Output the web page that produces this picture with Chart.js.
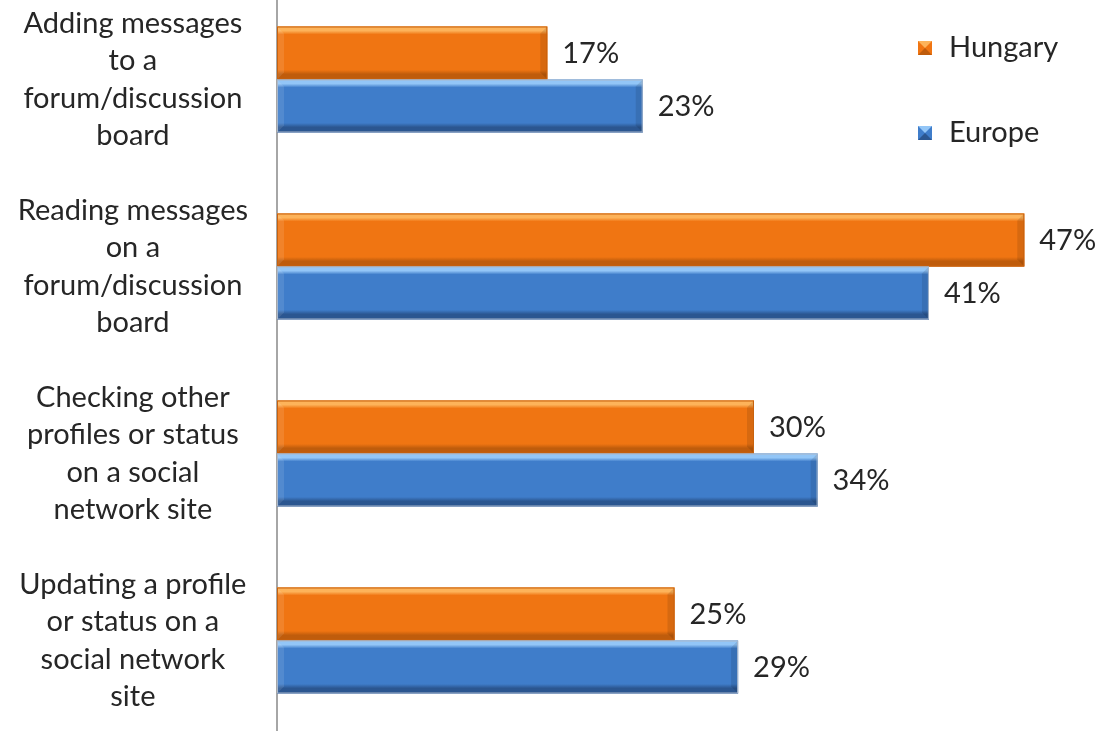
<!DOCTYPE html>
<html>
<head>
<meta charset="utf-8">
<script src="https://cdn.jsdelivr.net/npm/chart.js@4/dist/chart.umd.min.js"></script>
<style>
  html, body { margin: 0; padding: 0; background: #fff; overflow: hidden; }
  #wrap { position: absolute; left: 0; top: -14px; width: 1099px; height: 748px; }
</style>
</head>
<body>
<div id="wrap"><canvas id="c" width="1099" height="748"></canvas></div>
<script>
// Online activities, share of internet users
const categories = [
  ['Adding messages', 'to a', 'forum/discussion', 'board'],
  ['Reading messages', 'on a', 'forum/discussion', 'board'],
  ['Checking other', 'profiles or status', 'on a social', 'network site'],
  ['Updating a profile', 'or status on a', 'social network', 'site']
];
const hungary = [17, 47, 30, 25];
const europe = [23, 41, 34, 29];
const seriesNames = ['Hungary', 'Europe'];

const FONT = 'Lato, "Open Sans", sans-serif';
const TEXT = '#262626';

const palette = {
  Hungary: { base: '#F07512', light: '#FDB35A', dark: '#BF5C0C', border: '#C8620E' },
  Europe:  { base: '#3F7DCA', light: '#93C6F7', dark: '#2B5690', border: '#A9B8CC' }
};

// Bevelled fill for each bar: highlight on top, shade at bottom, lit left edge
const bevelBars = {
  id: 'bevelBars',
  afterDatasetsDraw(chart) {
    const ctx = chart.ctx;
    chart.data.datasets.forEach((ds, di) => {
      const p = palette[ds.label];
      chart.getDatasetMeta(di).data.forEach((bar, idx) => {
        const x0 = bar.base, x1 = bar.x;
        const y0 = bar.y - bar.height / 2, y1 = bar.y + bar.height / 2;
        const h = y1 - y0, w = x1 - x0;
        ctx.save();
        const g = ctx.createLinearGradient(0, y0, 0, y1);
        g.addColorStop(0, p.light);
        g.addColorStop(0.08, p.light);
        g.addColorStop(0.15, p.base);
        g.addColorStop(0.82, p.base);
        g.addColorStop(0.9, p.dark);
        g.addColorStop(1, p.dark);
        ctx.fillStyle = g;
        ctx.fillRect(x0, y0, w, h);
        // left bevel
        const b = 7;
        ctx.beginPath();
        ctx.moveTo(x0, y0); ctx.lineTo(x0 + b, y0 + b); ctx.lineTo(x0 + b, y1 - b); ctx.lineTo(x0, y1);
        ctx.closePath();
        ctx.fillStyle = 'rgba(255,255,255,0.10)';
        ctx.fill();
        // right bevel
        ctx.beginPath();
        ctx.moveTo(x1, y0); ctx.lineTo(x1 - b, y0 + b); ctx.lineTo(x1 - b, y1 - b); ctx.lineTo(x1, y1);
        ctx.closePath();
        ctx.fillStyle = 'rgba(0,0,0,0.10)';
        ctx.fill();
        ctx.strokeStyle = p.border;
        ctx.lineWidth = 1;
        ctx.strokeRect(x0 + 0.5, y0 + 0.5, w - 1, h - 1);
        ctx.restore();

        // value label
        ctx.save();
        ctx.font = '29px ' + FONT;
        ctx.fillStyle = TEXT;
        ctx.textAlign = 'left';
        ctx.textBaseline = 'middle';
        ctx.fillText(ds.data[idx] + '%', x1 + 15, bar.y + 1);
        ctx.restore();
      });
    });
  }
};

// Legend drawn as a vertical list with bevelled swatches
const sideLegend = {
  id: 'sideLegend',
  afterDraw(chart) {
    const ctx = chart.ctx;
    const rows = [62, 147];
    chart.data.datasets.forEach((ds, i) => {
      const p = palette[ds.label];
      const y = rows[i];
      const x = 918, s = 14;
      ctx.save();
      ctx.fillStyle = p.base;
      ctx.fillRect(x, y - s / 2, s, s);
      ctx.fillStyle = p.light;
      ctx.beginPath(); ctx.moveTo(x, y - s / 2); ctx.lineTo(x + s, y - s / 2); ctx.lineTo(x + s / 2, y); ctx.closePath(); ctx.fill();
      ctx.fillStyle = p.dark;
      ctx.beginPath(); ctx.moveTo(x, y + s / 2); ctx.lineTo(x + s, y + s / 2); ctx.lineTo(x + s / 2, y); ctx.closePath(); ctx.fill();
      ctx.font = '29px ' + FONT;
      ctx.fillStyle = TEXT;
      ctx.textBaseline = 'middle';
      ctx.fillText(ds.label, 949, y);
      ctx.restore();
    });
  }
};

new Chart(document.getElementById('c'), {
  type: 'bar',
  data: {
    labels: categories,
    datasets: [
      { label: seriesNames[0], data: hungary, backgroundColor: palette.Hungary.base },
      { label: seriesNames[1], data: europe, backgroundColor: palette.Europe.base }
    ]
  },
  options: {
    indexAxis: 'y',
    responsive: false,
    animation: false,
    events: [],
    layout: { padding: { left: 0, right: 27, top: 0, bottom: 0 } },
    datasets: { bar: { categoryPercentage: 0.567, barPercentage: 1.0 } },
    plugins: { legend: { display: false }, tooltip: { enabled: false } },
    scales: {
      x: { display: false, min: 0, max: 50 },
      y: {
        grid: { display: false, drawTicks: false },
        border: { display: true, color: '#A6A6A6', width: 2 },
        ticks: {
          crossAlign: 'center',
          padding: 29,
          color: TEXT,
          font: { family: FONT, size: 29, lineHeight: 1.293 }
        },
        afterFit(scale) {
          scale.width = 277;
          scale.paddingTop = 0;
          scale.paddingBottom = 0;
        }
      }
    }
  },
  plugins: [bevelBars, sideLegend]
});
</script>
</body>
</html>
